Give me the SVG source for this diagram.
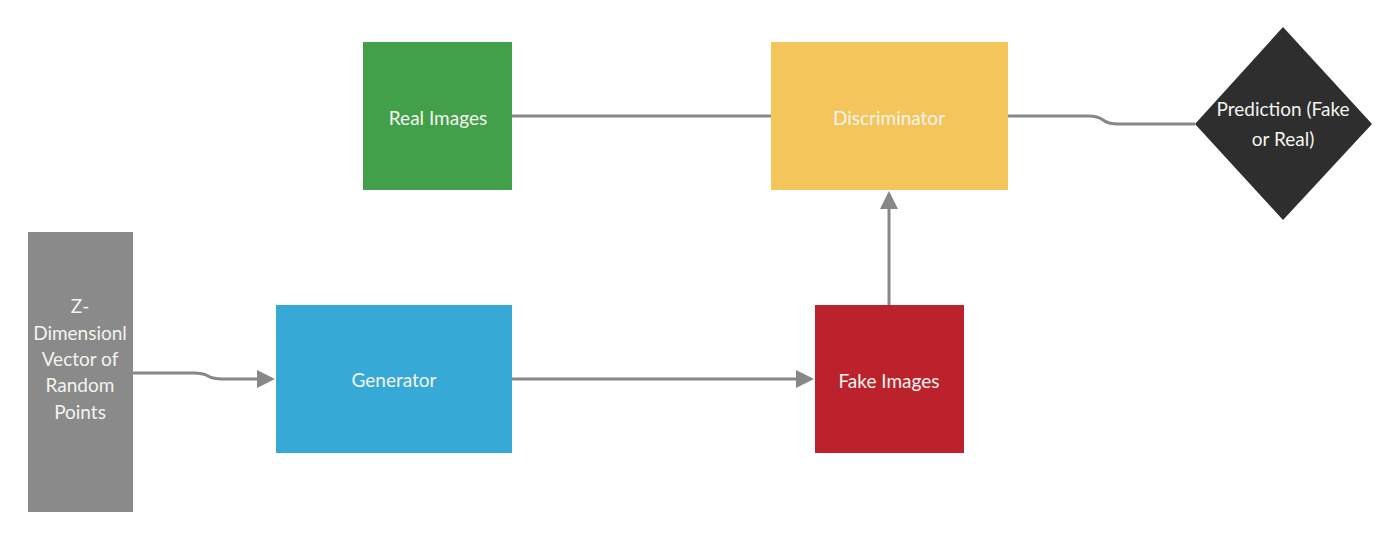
<svg xmlns="http://www.w3.org/2000/svg" width="1400" height="540" viewBox="0 0 1400 540">
<style>
.lbl{font-family:Lato,"Liberation Sans",sans-serif;font-size:19px;fill:#f4f4ee;text-anchor:middle}
.con{fill:none;stroke:#878787;stroke-width:3}
</style>
<defs>
<marker id="ah" markerWidth="6" markerHeight="6" refX="5" refY="3" orient="auto" markerUnits="strokeWidth">
<path d="M0,0 L6,3 L0,6 Z" fill="#878787"/>
</marker>
</defs>
<rect width="1400" height="540" fill="#ffffff"/>
<g id="connectors">
<path class="con" d="M133,373 L193,373 Q203,373 208,376 Q213,379 223,379 L272,379" marker-end="url(#ah)"/>
<path class="con" d="M512,116 L771,116"/>
<path class="con" d="M1008,116 L1088,116 Q1098,116 1103,120 Q1108,124 1118,124 L1195,124"/>
<path class="con" d="M512,379 L811,379" marker-end="url(#ah)"/>
<path class="con" d="M889,305 L889,194" marker-end="url(#ah)"/>
</g>
<g id="z-vector">
<rect x="28" y="232" width="105" height="280" fill="#8a8a8a"/>
<text class="lbl" x="80"><tspan x="80" y="313">Z-</tspan><tspan x="80" y="340">Dimensionl</tspan><tspan x="80" y="366">Vector of</tspan><tspan x="80" y="392">Random</tspan><tspan x="80" y="419">Points</tspan></text>
</g>
<g id="generator">
<rect x="276" y="305" width="236" height="148" fill="#36a9d6"/>
<text class="lbl" x="394" y="387">Generator</text>
</g>
<g id="real-images">
<rect x="363" y="42" width="149" height="148" fill="#43a04a"/>
<text class="lbl" x="438" y="125">Real Images</text>
</g>
<g id="discriminator">
<rect x="771" y="42" width="237" height="148" fill="#f4c55a"/>
<text class="lbl" x="889" y="125">Discriminator</text>
</g>
<g id="fake-images">
<rect x="815" y="305" width="149" height="148" fill="#bc222c"/>
<text class="lbl" x="889" y="388">Fake Images</text>
</g>
<g id="prediction">
<path d="M1283,27 L1372,124 L1283,220 L1195,124 Z" fill="#2e2e2e"/>
<text class="lbl"><tspan x="1283" y="116">Prediction (Fake</tspan><tspan x="1283" y="146">or Real)</tspan></text>
</g>
</svg>
